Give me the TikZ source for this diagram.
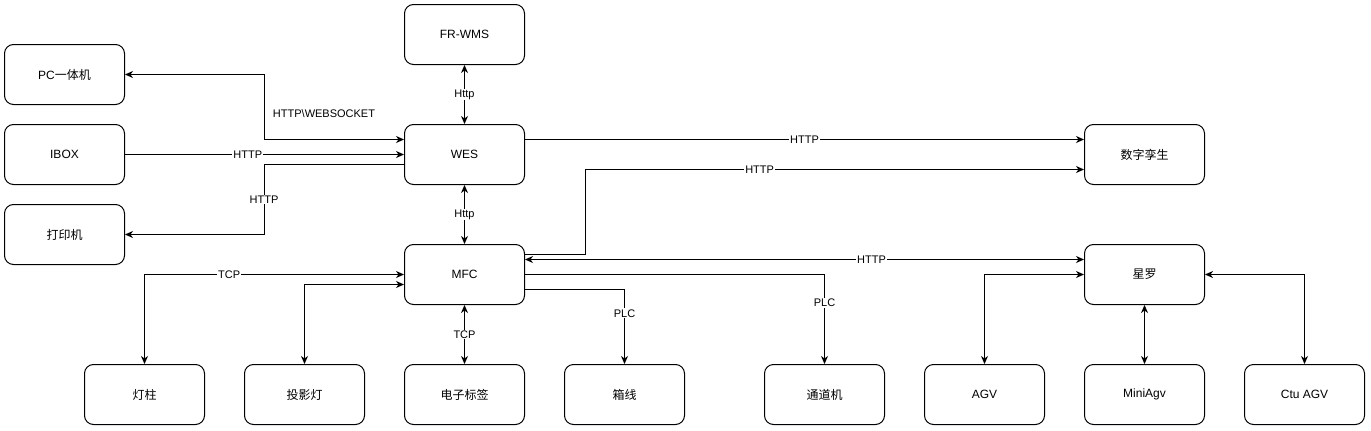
\documentclass[tikz,border=0pt]{standalone}
\usepackage{fontspec}
\setmainfont{Liberation Sans}
\newfontfamily\cjk{Noto Sans CJK SC}
\usetikzlibrary{arrows.meta}
\begin{document}
\begin{tikzpicture}[x=1pt,y=-1pt,line width=1pt,>={Stealth[length=8pt,width=7pt,inset=2.5pt]},
	box/.style={draw,rounded corners=9pt,minimum width=120pt,minimum height=60pt,font=\fontsize{12}{14}\selectfont},
	lbl/.style={fill=white,inner sep=1pt,font=\fontsize{11}{13}\selectfont}]
	\useasboundingbox (0,0) rectangle (1371,431);
	\node[box] (frwms) at (464.5,34.5) {FR-WMS};
	\node[box] (pc) at (64.5,74.5) {PC{\cjk 一体机}};
	\node[box] (ibox) at (64.5,154.5) {IBOX};
	\node[box] (printer) at (64.5,234.5) {\cjk 打印机};
	\node[box] (wes) at (464.5,154.5) {WES};
	\node[box] (twin) at (1144.5,154.5) {\cjk 数字孪生};
	\node[box] (mfc) at (464.5,274.5) {MFC};
	\node[box] (xingluo) at (1144.5,274.5) {\cjk 星罗};
	\node[box] (lamp) at (144.5,394.5) {\cjk 灯柱};
	\node[box] (projector) at (304.5,394.5) {\cjk 投影灯};
	\node[box] (etag) at (464.5,394.5) {\cjk 电子标签};
	\node[box] (boxline) at (624.5,394.5) {\cjk 箱线};
	\node[box] (gate) at (824.5,394.5) {\cjk 通道机};
	\node[box] (agv) at (984.5,394.5) {AGV};
	\node[box] (miniagv) at (1144.5,394.5) {MiniAgv};
	\node[box] (ctuagv) at (1304.5,394.5) {Ctu AGV};
	\node[lbl,fill=none] (wslbl) at (324,114) {HTTP\textbackslash WEBSOCKET};
	\draw[<->] (pc.east) -| ([xshift=-140pt,yshift=15pt]wes.west) -- ([yshift=15pt]wes.west);
	\draw[->] (ibox) -- node[lbl,pos=0.44]{HTTP} (wes);
	\draw[->] ([yshift=-10pt]wes.west) -- ++(-140,0) |- node[lbl,pos=0.25]{HTTP} (printer.east);
	\draw[<->] (frwms) -- node[lbl]{Http} (wes);
	\draw[<->] (wes) -- node[lbl]{Http} (mfc);
	\draw[->] ([yshift=15pt]wes.east) -- node[lbl]{HTTP} ([yshift=15pt]twin.west);
	\draw[->] ([yshift=20pt]mfc.east) -- ++(60,0) |- node[lbl,pos=0.675]{HTTP} ([yshift=-15pt]twin.west);
	\draw[<->] ([yshift=15pt]mfc.east) -- node[lbl,pos=0.62]{HTTP} ([yshift=15pt]xingluo.west);
	\draw[->] (mfc.east) -| node[lbl,pos=0.66]{PLC} (gate.north);
	\draw[->] ([yshift=-15pt]mfc.east) -| node[lbl,pos=0.66]{PLC} (boxline.north);
	\draw[<->] (mfc.west) -| node[lbl,pos=0.337]{TCP} (lamp.north);
	\draw[<->] ([yshift=-10pt]mfc.west) -| (projector.north);
	\draw[<->] (mfc) -- node[lbl]{TCP} (etag);
	\draw[<->] (xingluo.west) -| (agv.north);
	\draw[<->] (xingluo) -- (miniagv);
	\draw[<->] (xingluo.east) -| (ctuagv.north);
\end{tikzpicture}
\end{document}
